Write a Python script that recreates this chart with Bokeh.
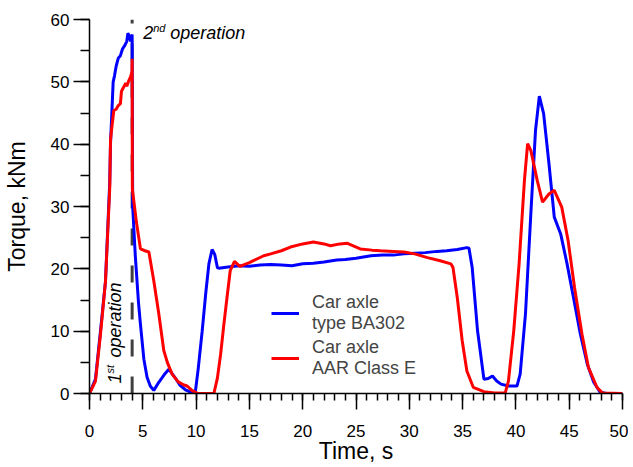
import math
from bokeh.plotting import figure
from bokeh.models import Range1d, Legend, LegendItem, Label, FixedTicker
from bokeh.embed import file_html
from bokeh.resources import INLINE

# ---- data ----
blue_x = [0, 0.56, 1.03, 1.5, 1.9, 1.97, 2.22, 2.35, 2.5, 2.7, 2.9, 3.1, 3.3, 3.5, 3.6, 3.75, 3.85, 4.0,
          4.05, 4.3, 4.6, 4.78, 5.1, 5.4, 5.7, 6.03, 6.5, 7.0, 7.44, 8.0, 8.5, 9.0, 9.6, 9.94, 10.2, 10.57,
          10.9, 11.2, 11.5, 11.75, 12.0, 12.13, 13, 14, 15, 16, 17, 18, 19, 20, 21, 22, 23.2, 24, 25, 26.4,
          27.5, 28.5, 29.5, 30.5, 31.5, 32.6, 33.5, 34.5, 35.4, 35.6, 35.9, 36.4, 37.0, 37.4, 37.8, 38.2,
          38.6, 39.3, 40.1, 40.4, 40.9, 41.4, 41.84, 42.2, 42.6, 43.1, 43.6, 44.2, 44.8, 45.4, 46.05, 46.7,
          47.3, 47.9, 48.5, 50]
blue_y = [0, 2.3, 10, 18, 34, 40, 50, 51, 52.5, 53.8, 54.2, 55.3, 55.8, 56.5, 57.8, 57.2, 56.5, 57.6,
          30.0, 22, 14.5, 11.1, 5.5, 2.6, 1.2, 0.5, 1.8, 3.0, 3.9, 2.6, 1.3, 0.6, 0.15, 0.4, 4, 10,
          16, 20.8, 23.1, 22.3, 20.2, 20.1, 20.3, 20.5, 20.4, 20.6, 20.7, 20.6, 20.5, 20.8, 20.9, 21.1, 21.4, 21.5, 21.7, 22.1,
          22.2, 22.2, 22.4, 22.5, 22.6, 22.8, 22.9, 23.1, 23.4, 23.3, 20.2, 10.1, 2.3, 2.4, 2.8, 2.0,
          1.5, 1.2, 1.2, 3.1, 12.8, 28.8, 42.2, 47.7, 44.9, 36.9, 28.3, 25.6, 20.8, 15.4, 9.5, 4.7,
          1.8, 0.2, 0, 0]

red_x = [0, 0.56, 1.03, 1.5, 1.9, 1.97, 2.05, 2.28, 2.5, 2.7, 2.9, 3.0, 3.22, 3.4, 3.5, 3.69, 3.85, 3.98, 4.0,
         4.02, 4.4, 4.78, 5.2, 5.57, 6.03, 6.5, 6.97, 7.3, 7.75, 8.3, 8.8, 9.16, 9.6, 10.1, 11.0, 11.67,
         12.0, 12.3, 12.6, 12.9, 13.2, 13.6, 14.1, 15, 16.35, 17, 18, 18.85, 20, 21.0, 22, 22.6, 23.5, 24.2,
         25.4, 26.5, 27.3, 28.5, 29.5, 30.5, 31.7, 32.9, 33.9, 34.1, 34.5, 34.96, 35.4, 36.0, 37.0, 38,
         39.0, 39.3, 39.8, 40.3, 40.8, 41.1, 41.4, 42.0, 42.5, 43.1, 43.6, 44.3, 44.9, 45.5, 46.2, 46.8,
         47.6, 48.1, 50]
red_y = [0, 2.0, 9.5, 18, 33, 40.6, 42, 45.4, 45.6, 46.2, 46.5, 48.5, 49.2, 49.8, 49.3, 50.2, 50.8, 51.6, 53.7,
         32.8, 27.5, 23.2, 22.9, 22.7, 18.1, 12.8, 6.9, 5.0, 3.1, 1.9, 1.4, 1.2, 0.5, 0.05, 0, 0,
         2.5, 6.3, 11, 15.4, 19.7, 21.2, 20.4, 21.0, 22.1, 22.4, 22.9, 23.5, 24.0, 24.3, 24.0, 23.7, 24.0, 24.1,
         23.2, 23.0, 22.9, 22.8, 22.7, 22.4, 21.8, 21.3, 20.8, 20.2, 15.4, 8.5, 3.6, 1.0, 0.3, 0.1,
         0.1, 2.0, 10.1, 20.8, 34.2, 40.1, 39.0, 34.2, 30.7, 32.0, 32.6, 29.9, 24.5, 17.0, 9.5, 4.2,
         1.0, 0.1, 0]

op_time = 4.0
x_ticks = [0, 5, 10, 15, 20, 25, 30, 35, 40, 45, 50]
y_ticks = [0, 10, 20, 30, 40, 50, 60]
labels = ["Car axle\ntype BA302", "Car axle\nAAR Class E"]

FONT = "Liberation Sans"

p = figure(width=628, height=467, output_backend="svg", toolbar_location=None,
           x_range=Range1d(0, 50), y_range=Range1d(0, 60),
           min_border_left=89, min_border_right=6, min_border_top=19, min_border_bottom=74)
p.outline_line_color = None
p.xgrid.visible = False
p.ygrid.visible = False
p.background_fill_color = "white"

# dashed line at 4 s
p.line([op_time, op_time], [0, 60], line_color="#404040", line_width=3, line_dash="17 20")

rb = p.line(blue_x, blue_y, line_color="#0000ff", line_width=3)
rr = p.line(red_x, red_y, line_color="#ff0000", line_width=3)

legend = Legend(items=[LegendItem(label=labels[0], renderers=[rb]),
                       LegendItem(label=labels[1], renderers=[rr])],
                location=(182, 14), border_line_color=None, background_fill_alpha=0,
                label_text_font=FONT, label_text_font_size="18px", glyph_width=28,
                label_standoff=13, spacing=3, padding=4, margin=0)
p.add_layout(legend)

for ax in (p.xaxis[0], p.yaxis[0]):
    ax.axis_line_color = "black"
    ax.axis_line_width = 1.5
    ax.major_tick_line_color = "black"
    ax.major_tick_line_width = 1.5
    ax.minor_tick_line_color = "black"
    ax.minor_tick_line_width = 1.5
    ax.major_tick_in = 0
    ax.minor_tick_in = 0
    ax.major_label_text_font = FONT
    ax.major_label_text_font_size = "17px"
    ax.major_label_text_color = "black"
    ax.axis_label_text_font = FONT
    ax.axis_label_text_font_style = "normal"
    ax.axis_label_text_font_size = "23px"
    ax.axis_label_text_color = "black"

p.xaxis.ticker = FixedTicker(ticks=x_ticks, minor_ticks=list(range(0, 51)))
p.yaxis.ticker = FixedTicker(ticks=y_ticks, minor_ticks=list(range(0, 61, 5)))
p.xaxis.major_tick_out = 16
p.xaxis.minor_tick_out = 7
p.yaxis.major_tick_out = 16
p.yaxis.minor_tick_out = 9
p.xaxis.major_label_standoff = 15
p.yaxis.major_label_standoff = 4
p.xaxis.axis_label = "Time, s"
p.xaxis.axis_label_standoff = -2
p.yaxis.axis_label = "Torque, kNm"
p.yaxis.axis_label_standoff = 18

# annotations
ann = dict(text_font=FONT, text_font_style="italic", text_color="black")
p.add_layout(Label(x=5.04, y=57.9, text="2", text_font_size="18px", text_baseline="alphabetic", **ann))
p.add_layout(Label(x=5.04, y=57.9, x_offset=10, y_offset=4.5, text="nd", text_font_size="11px",
                   text_baseline="alphabetic", **ann))
p.add_layout(Label(x=5.04, y=57.9, x_offset=27, text="operation", text_font_size="18px",
                   text_baseline="alphabetic", **ann))

ang = math.pi / 2
p.add_layout(Label(x=2.35, y=1.6, angle=ang, text="1", text_font_size="18px", text_baseline="alphabetic", **ann))
p.add_layout(Label(x=2.35, y=1.6, angle=ang, x_offset=-4.5, y_offset=10, text="st", text_font_size="11px",
                   text_baseline="alphabetic", **ann))
p.add_layout(Label(x=2.35, y=1.6, angle=ang, y_offset=26, text="operation", text_font_size="18px",
                   text_baseline="alphabetic", **ann))

open("out.html", "w").write(file_html(p, INLINE))
